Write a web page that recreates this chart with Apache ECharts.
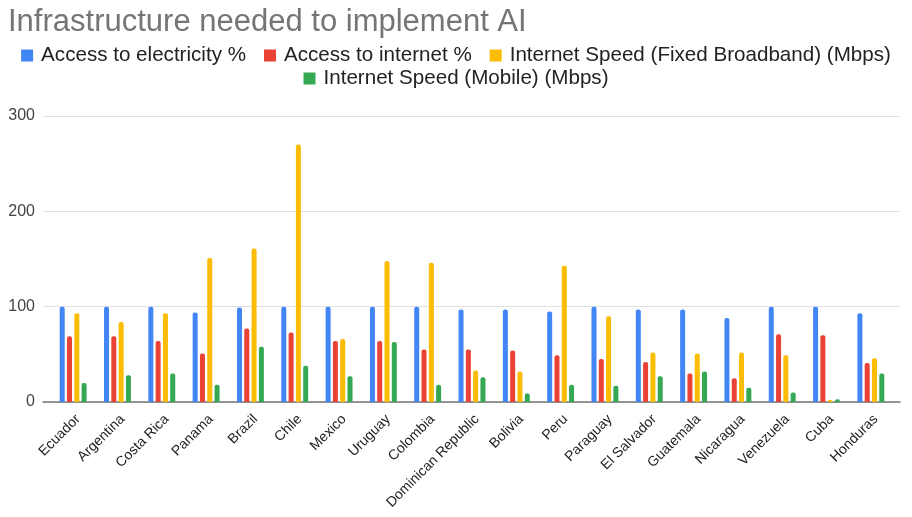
<!DOCTYPE html>
<html>
<head>
<meta charset="utf-8">
<script src="https://cdn.jsdelivr.net/npm/echarts@6/dist/echarts.min.js"></script>
<style>
  html, body { margin: 0; padding: 0; background: #fff; }
  #mychart { width: 912px; height: 517px; }
</style>
</head>
<body>
<div id="mychart"></div>
<script>
// countries on the x axis
let countries = ['Ecuador', 'Argentina', 'Costa Rica', 'Panama', 'Brazil', 'Chile', 'Mexico', 'Uruguay',
    'Colombia', 'Dominican Republic', 'Bolivia', 'Peru', 'Paraguay', 'El Salvador', 'Guatemala',
    'Nicaragua', 'Venezuela', 'Cuba', 'Honduras']

// values
let electricity = [100, 100, 100, 94, 99, 100, 100, 100, 100, 97, 97, 95, 100, 97, 97, 88, 100, 100, 93]
let internet = [69, 69, 64, 51, 77, 73, 64, 64, 55, 55, 54, 49, 45, 42, 30, 25, 71, 70, 41]
let fixedSpeed = [93, 84, 93, 151, 161, 270, 66, 148, 146, 33, 32, 143, 90, 52, 51, 52, 49, 2, 46]
let mobileSpeed = [20, 28, 30, 18, 58, 38, 27, 63, 18, 26, 9, 18, 17, 27, 32, 15, 10, 3, 30]

let seriesNames = ['Access to electricity %', 'Access to internet %',
    'Internet Speed (Fixed Broadband) (Mbps)', 'Internet Speed (Mobile) (Mbps)']
let colors = ['#4285F4', '#EA4335', '#FBBC04', '#34A853']

let yTicks = { min: 0, max: 300, interval: 100 }

let font = '"Liberation Sans", Arial, sans-serif'

let myChart = echarts.init(document.getElementById('mychart'))

function bar(name, values) {
    return {
        name: name,
        type: 'bar',
        xAxisIndex: 1,
        yAxisIndex: 1,
        barWidth: 5,
        barGap: '46%',
        itemStyle: { borderRadius: [2, 2, 0, 0] },
        data: values
    }
}

let legendText = { color: '#222', fontSize: 20.6, fontFamily: font, padding: [0, 0, 0, 3] }

let option = {
    color: colors,
    animation: false,
    title: {
        text: 'Infrastructure needed to implement AI',
        left: 3,
        top: 2,
        textStyle: { color: '#757575', fontSize: 31, fontWeight: 'normal', fontFamily: font }
    },
    legend: [
        {
            data: seriesNames.slice(0, 3),
            top: 40,
            left: 'center',
            itemWidth: 12,
            itemHeight: 12,
            itemGap: 18,
            icon: 'rect',
            textStyle: legendText
        },
        {
            data: seriesNames.slice(3),
            top: 63,
            left: 'center',
            itemWidth: 12,
            itemHeight: 12,
            icon: 'rect',
            textStyle: legendText
        }
    ],
    grid: [
        // gridlines, y labels and baseline
        { left: 43, right: 12, top: 116, bottom: 115, outerBoundsMode: 'none' },
        // bars and country labels
        { left: 51, right: 19, top: 116, bottom: 115, outerBoundsMode: 'none' }
    ],
    xAxis: [
        {
            type: 'category',
            gridIndex: 0,
            data: countries,
            axisLine: { lineStyle: { color: '#757575', width: 1.5 } },
            axisTick: { show: false },
            axisLabel: { show: false }
        },
        {
            type: 'category',
            gridIndex: 1,
            data: countries,
            axisLine: { show: false },
            axisTick: { show: false },
            axisLabel: {
                rotate: 45,
                interval: 0,
                margin: 10,
                verticalAlign: 'top',
                color: '#222',
                fontSize: 14,
                fontFamily: font
            }
        }
    ],
    yAxis: [
        {
            type: 'value',
            gridIndex: 0,
            min: yTicks.min,
            max: yTicks.max,
            interval: yTicks.interval,
            axisLabel: { color: '#444', fontSize: 16, fontFamily: font, margin: 8 },
            splitLine: { lineStyle: { color: '#e0e0e0', width: 1 } }
        },
        {
            type: 'value',
            gridIndex: 1,
            min: yTicks.min,
            max: yTicks.max,
            interval: yTicks.interval,
            axisLabel: { show: false },
            splitLine: { show: false }
        }
    ],
    series: [
        bar(seriesNames[0], electricity),
        bar(seriesNames[1], internet),
        bar(seriesNames[2], fixedSpeed),
        bar(seriesNames[3], mobileSpeed)
    ]
}

myChart.setOption(option)
</script>
</body>
</html>
